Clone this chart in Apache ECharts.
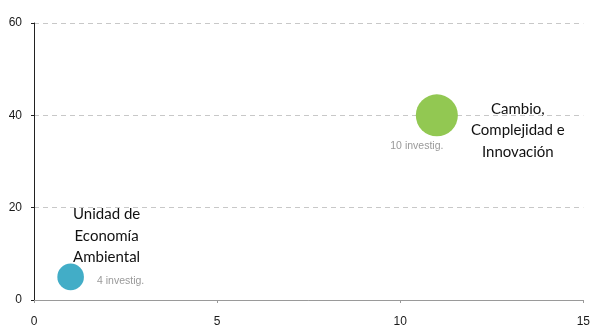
<!DOCTYPE html>
<html><head><meta charset="utf-8">
<script src="https://cdn.jsdelivr.net/npm/echarts@6/dist/echarts.min.js"></script>
<style>html,body{margin:0;padding:0;background:#fff}#c{width:593px;height:329px}</style>
</head><body><div id="c"></div>
<script>
var names = ['Cambio,\nComplejidad e\nInnovación', 'Unidad de\nEconomía\nAmbiental'];
var xValues = [11, 1];
var yValues = [40, 5];
var counts = [10, 4];
var colors = ['#92C852', '#42ADC7'];
var xTicks = [0, 5, 10, 15];
var yTicks = [0, 20, 40, 60];

var nameOffsets = [[81, 15], [36, -41]];
var countOffsets = [[-20, 31], [50, 4]];

var chart = echarts.init(document.getElementById('c'), null, {renderer: 'canvas'});
var bubbleData = names.map(function (n, i) {
  return {
    value: [xValues[i], yValues[i], counts[i]],
    itemStyle: {color: colors[i], opacity: 1},
    label: {show: true, formatter: n, position: 'inside', offset: nameOffsets[i], align: 'center', verticalAlign: 'middle'}
  };
});
var countData = names.map(function (n, i) {
  return {
    value: [xValues[i], yValues[i], counts[i]],
    label: {show: true, formatter: counts[i] + ' investig.', position: 'inside', offset: countOffsets[i], align: 'center', verticalAlign: 'middle'}
  };
});
chart.setOption({
  animation: false,
  grid: {left: 34, right: 7, top: 23, bottom: 29, containLabel: false},
  xAxis: {
    type: 'value', min: xTicks[0], max: xTicks[xTicks.length - 1], interval: 5,
    axisLine: {show: true, lineStyle: {color: '#9a9a9a', width: 1}},
    axisTick: {show: true, length: 3, inside: false, lineStyle: {color: '#9a9a9a'}},
    axisLabel: {margin: 16, color: '#1a1a1a', fontSize: 12, fontFamily: 'Liberation Sans'},
    splitLine: {show: false}
  },
  yAxis: {
    type: 'value', min: yTicks[0], max: yTicks[yTicks.length - 1], interval: 20,
    axisLine: {show: true, lineStyle: {color: '#222', width: 1}},
    axisTick: {show: true, length: 3, lineStyle: {color: '#222'}},
    axisLabel: {margin: 12, color: '#1a1a1a', fontSize: 12, fontFamily: 'Liberation Sans'},
    splitLine: {show: true, lineStyle: {color: '#c8c8c8', type: [5, 4], width: 1}}
  },
  series: [
    {
      type: 'scatter',
      data: bubbleData,
      symbolSize: function (v) { return 13.3 * Math.sqrt(v[2]); },
      label: {color: '#111', fontSize: 15, lineHeight: 21.5, fontFamily: 'Lato'},
      emphasis: {disabled: true},
      z: 3
    },
    {
      type: 'scatter',
      data: countData,
      symbolSize: 0,
      itemStyle: {color: 'transparent'},
      label: {color: '#808080', fontSize: 10.5, fontFamily: 'Liberation Sans'},
      emphasis: {disabled: true},
      z: 4
    }
  ]
});
</script></body></html>
